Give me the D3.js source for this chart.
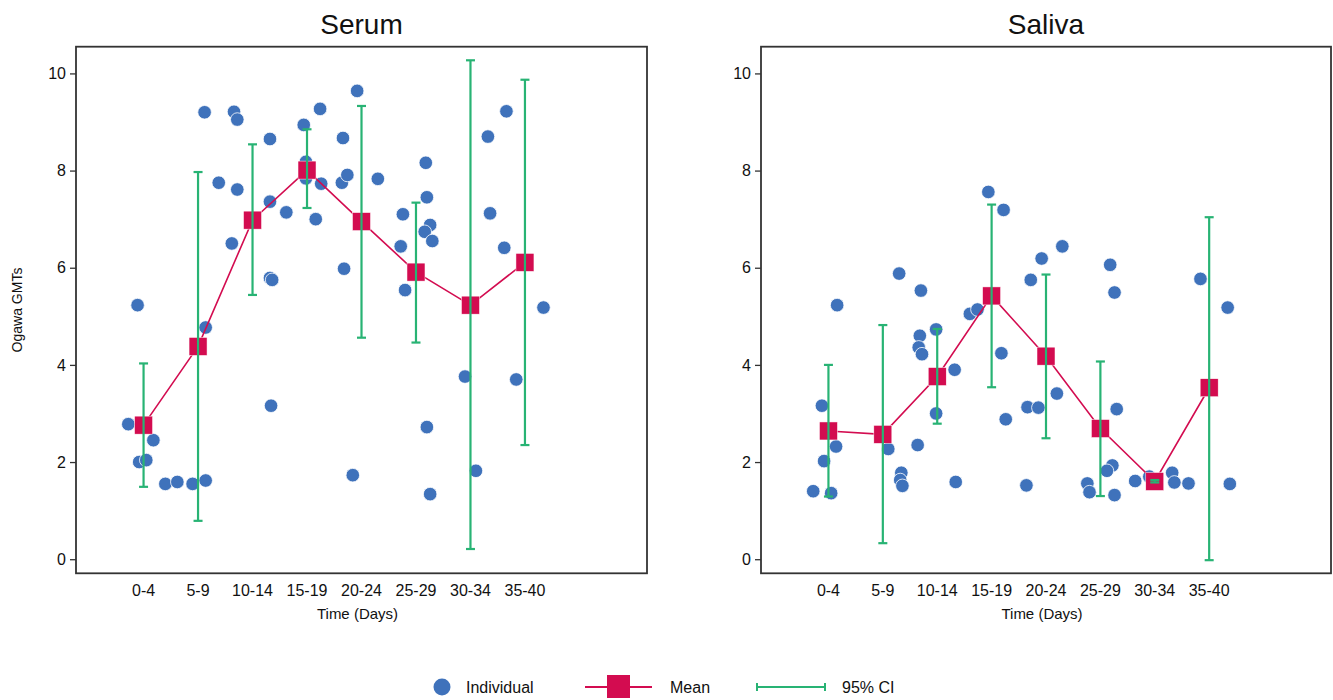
<!DOCTYPE html>
<html>
<head>
<meta charset="utf-8">
<script src="https://cdn.jsdelivr.net/npm/d3@7"></script>
<style>
  body { margin: 0; background: #fff; }
  text { font-family: "Liberation Sans", Arial, sans-serif; fill: #111; }
</style>
</head>
<body>
<svg id="chart" width="1333" height="700"></svg>
<script>
'use strict';

// time bins (labels) and the day at the centre of each bin
var binLabels = ["0-4", "5-9", "10-14", "15-19", "20-24", "25-29", "30-34", "35-40"];
var binDays = [2, 7, 12, 17, 22, 27, 32, 37];
var yTicks = [0, 2, 4, 6, 8, 10];

// Serum: individual samples (day, GMT)
var serumDay = [7.6, 10.3, 10.6, 13.6, 16.7, 18.2, 21.6, 20.3, 8.9, 10.6, 13.6, 15.1, 16.9, 16.9, 18.3,
  17.8, 20.2, 20.7, 10.1, 13.6, 13.8, 20.4, 1.45, 7.7, 23.5, 26.0, 25.8, 25.6, 27.9, 28.0, 28.3, 27.8,
  28.5, 33.6, 35.3, 33.8, 35.1, 38.7, 13.7, 0.6, 2.9, 1.6, 2.25, 4.0, 5.1, 6.5, 7.7, 21.2, 31.5, 36.2,
  28.0, 32.5, 28.3];
var serumVal = [9.20, 9.21, 9.05, 8.65, 8.94, 9.27, 9.64, 8.67, 7.75, 7.61, 7.36, 7.14, 8.18, 7.84, 7.73,
  7.00, 7.75, 7.91, 6.50, 5.79, 5.75, 5.98, 5.23, 4.77, 7.83, 5.54, 7.10, 6.44, 8.16, 7.45, 6.88, 6.74,
  6.55, 8.70, 9.22, 7.12, 6.41, 5.18, 3.16, 2.78, 2.45, 2.00, 2.04, 1.55, 1.59, 1.55, 1.62, 1.73, 3.76, 3.70,
  2.72, 1.82, 1.34];
var serumMean = [2.76, 4.38, 6.98, 8.01, 6.95, 5.91, 5.23, 6.11];
var serumLow = [1.49, 0.79, 5.44, 7.23, 4.56, 4.46, 0.21, 2.35];
var serumHigh = [4.03, 7.97, 8.54, 8.85, 9.33, 7.34, 10.27, 9.87];

// Saliva: individual samples (day, GMT)
var salivaDay = [16.7, 18.1, 8.5, 10.5, 2.8, 15.0, 15.7, 11.9, 10.4, 10.3, 10.6, 17.9, 13.6, 1.4, 11.9,
  18.3, 2.7, 7.5, 10.2, 1.6, 8.7, 8.6, 8.8, 13.7, 0.6, 2.25, 23.5, 21.6, 20.6, 27.9, 28.3, 36.2, 38.7,
  23.0, 20.3, 21.3, 28.5, 20.2, 25.8, 26.0, 28.1, 27.6, 28.3, 30.2, 31.5, 33.6, 33.8, 35.1, 38.9];
var salivaVal = [7.56, 7.19, 5.88, 5.53, 5.23, 5.05, 5.14, 4.73, 4.60, 4.36, 4.22, 4.24, 3.90, 3.16, 3.00,
  2.88, 2.32, 2.27, 2.35, 2.02, 1.78, 1.63, 1.51, 1.59, 1.40, 1.36, 6.44, 6.19, 5.75, 6.06, 5.49, 5.77, 5.18,
  3.41, 3.13, 3.12, 3.09, 1.52, 1.56, 1.38, 1.93, 1.82, 1.32, 1.61, 1.70, 1.78, 1.58, 1.56, 1.55];
var salivaMean = [2.64, 2.57, 3.76, 5.42, 4.18, 2.69, 1.60, 3.53];
var salivaLow = [1.29, 0.33, 2.79, 3.54, 2.49, 1.30, 1.58, -0.02];
var salivaHigh = [4.00, 4.82, 4.74, 7.30, 5.86, 4.07, 1.63, 7.04];

var blue = "#3f72bb", red = "#d30c50", green = "#28b374", frame = "#333";

var svg = d3.select("#chart");

var y = d3.scaleLinear().domain([-0.29, 10.55]).range([573.3, 46.7]);

function drawPanel(left, right, title, days, vals, mean, lo, hi, showYLabel) {
  var x = d3.scaleLinear().domain([-4.2, 48.2]).range([left, right]);
  var g = svg.append("g");

  // frame
  g.append("rect")
   .attr("x", left).attr("y", y.range()[1])
   .attr("width", right - left).attr("height", y.range()[0] - y.range()[1])
   .attr("fill", "none").attr("stroke", frame).attr("stroke-width", 1.8);

  // y axis
  var yAxis = g.append("g")
   .attr("transform", "translate(" + left + ",0)")
   .call(d3.axisLeft(y).tickValues(yTicks).tickSize(6).tickPadding(4));
  yAxis.select(".domain").remove();
  yAxis.selectAll("line").attr("stroke", frame).attr("stroke-width", 1.3);
  yAxis.selectAll("text").style("font-size", "16px")
   .style("font-family", "'Liberation Sans', Arial, sans-serif").attr("fill", "#111");

  // x tick labels at bin centres
  g.selectAll(".xlab").data(binLabels).enter().append("text")
   .attr("x", function(d, i) { return x(binDays[i]); })
   .attr("y", 596)
   .attr("text-anchor", "middle")
   .style("font-size", "16px")
   .text(function(d) { return d; });

  g.append("text")
   .attr("x", (left + right) / 2 - 4).attr("y", 619)
   .attr("text-anchor", "middle").style("font-size", "15px")
   .text("Time (Days)");

  g.append("text")
   .attr("x", (left + right) / 2).attr("y", 34)
   .attr("text-anchor", "middle").style("font-size", "28px")
   .text(title);

  if (showYLabel) {
    g.append("text")
     .attr("transform", "translate(22," + ((y.range()[0] + y.range()[1]) / 2) + ") rotate(-90)")
     .attr("text-anchor", "middle").style("font-size", "14px")
     .text("Ogawa GMTs");
  }

  // individual points
  g.selectAll(".pt").data(days).enter().append("circle")
   .attr("cx", function(d) { return x(d); })
   .attr("cy", function(d, i) { return y(vals[i]); })
   .attr("r", 6.8)
   .attr("fill", blue).attr("stroke", "#fff").attr("stroke-width", 0.8);

  // mean line and squares
  var line = d3.line()
   .x(function(d, i) { return x(binDays[i]); })
   .y(function(d) { return y(d); });
  g.append("path").datum(mean)
   .attr("d", line).attr("fill", "none")
   .attr("stroke", red).attr("stroke-width", 1.6);
  var sq = 18;
  g.selectAll(".mean").data(mean).enter().append("rect")
   .attr("x", function(d, i) { return x(binDays[i]) - sq / 2; })
   .attr("y", function(d) { return y(d) - sq / 2; })
   .attr("width", sq).attr("height", sq)
   .attr("fill", red).attr("stroke", "#fff").attr("stroke-width", 0.5);

  // 95% CI
  var ci = g.selectAll(".ci").data(binDays).enter().append("g");
  ci.append("line")
   .attr("x1", function(d) { return x(d); }).attr("x2", function(d) { return x(d); })
   .attr("y1", function(d, i) { return y(lo[i]); })
   .attr("y2", function(d, i) { return y(hi[i]); })
   .attr("stroke", green).attr("stroke-width", 2.2);
  [lo, hi].forEach(function(arr) {
    ci.append("line")
     .attr("x1", function(d) { return x(d) - 4.5; }).attr("x2", function(d) { return x(d) + 4.5; })
     .attr("y1", function(d, i) { return y(arr[i]); })
     .attr("y2", function(d, i) { return y(arr[i]); })
     .attr("stroke", green).attr("stroke-width", 2.2);
  });
}

drawPanel(76, 647, "Serum", serumDay, serumVal, serumMean, serumLow, serumHigh, true);
drawPanel(761, 1331, "Saliva", salivaDay, salivaVal, salivaMean, salivaLow, salivaHigh, false);

// legend
var ly = 687;
var leg = svg.append("g");
leg.append("circle").attr("cx", 442).attr("cy", ly).attr("r", 8.5).attr("fill", blue);
leg.append("text").attr("x", 466).attr("y", ly + 6).style("font-size", "16px").text("Individual");
leg.append("line").attr("x1", 585).attr("x2", 652).attr("y1", ly).attr("y2", ly)
   .attr("stroke", red).attr("stroke-width", 1.8);
leg.append("rect").attr("x", 607).attr("y", ly - 12).attr("width", 23).attr("height", 23).attr("fill", red);
leg.append("text").attr("x", 670).attr("y", ly + 6).style("font-size", "16px").text("Mean");
leg.append("line").attr("x1", 757).attr("x2", 825).attr("y1", ly).attr("y2", ly)
   .attr("stroke", green).attr("stroke-width", 2);
[757, 825].forEach(function(cx) {
  leg.append("line").attr("x1", cx).attr("x2", cx).attr("y1", ly - 4).attr("y2", ly + 4)
     .attr("stroke", green).attr("stroke-width", 2);
});
leg.append("text").attr("x", 842).attr("y", ly + 6).style("font-size", "16px").text("95% CI");
</script>
</body>
</html>
